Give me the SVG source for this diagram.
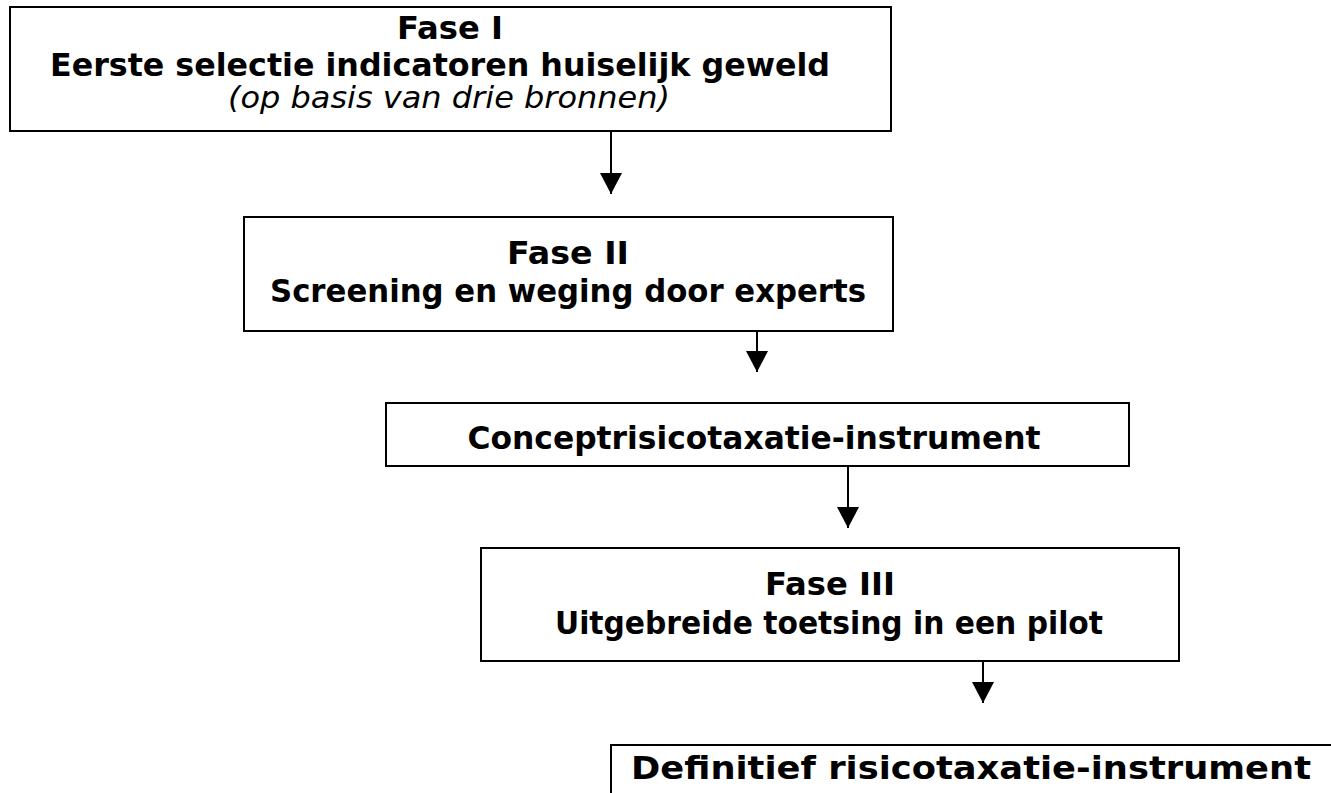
<svg xmlns="http://www.w3.org/2000/svg" width="1331" height="793" viewBox="0 0 1331 793">
<defs>
<style>
.box{fill:#fff;stroke:#000;stroke-width:2}
.t{font-family:"DejaVu Sans","Liberation Sans",sans-serif;font-weight:bold;font-size:32px;fill:#000;text-anchor:middle}
.i{font-family:"DejaVu Sans","Liberation Sans",sans-serif;font-style:italic;font-size:30px;fill:#000;text-anchor:middle}
.c{stroke:#000;stroke-width:2;fill:none}
</style>
<marker id="ah" markerWidth="21" markerHeight="22" refX="21" refY="11" orient="auto" markerUnits="userSpaceOnUse" viewBox="0 0 21 22">
<path d="M0,0 L21,11 L0,22 z" fill="#000"/>
</marker>
</defs>
<rect width="1331" height="793" fill="#fff"/>
<g id="fase1">
<rect class="box" x="10" y="7" width="881" height="124"/>
<text class="t" x="450" y="39" textLength="106" lengthAdjust="spacingAndGlyphs">Fase I</text>
<text class="t" x="440" y="76" textLength="780" lengthAdjust="spacingAndGlyphs">Eerste selectie indicatoren huiselijk geweld</text>
<text class="i" x="449" y="108" textLength="442" lengthAdjust="spacingAndGlyphs">(op basis van drie bronnen)</text>
</g>
<g id="fase2">
<rect class="box" x="244" y="217" width="649" height="114"/>
<text class="t" x="568" y="264" textLength="122" lengthAdjust="spacingAndGlyphs">Fase II</text>
<text class="t" x="568" y="302" textLength="596" lengthAdjust="spacingAndGlyphs">Screening en weging door experts</text>
</g>
<g id="concept">
<rect class="box" x="386" y="403" width="743" height="63"/>
<text class="t" x="754" y="449" textLength="573" lengthAdjust="spacingAndGlyphs">Conceptrisicotaxatie-instrument</text>
</g>
<g id="fase3">
<rect class="box" x="481" y="548" width="698" height="113"/>
<text class="t" x="830" y="595" textLength="130" lengthAdjust="spacingAndGlyphs">Fase III</text>
<text class="t" x="829" y="634" textLength="548" lengthAdjust="spacingAndGlyphs">Uitgebreide toetsing in een pilot</text>
</g>
<g id="definitief">
<rect class="box" x="611" y="745" width="740" height="80"/>
<text class="t" x="971" y="779" textLength="680" lengthAdjust="spacingAndGlyphs">Definitief risicotaxatie-instrument</text>
</g>
<g id="connectors">
<line class="c" x1="611" y1="131" x2="611" y2="194" marker-end="url(#ah)"/>
<line class="c" x1="757" y1="331" x2="757" y2="372" marker-end="url(#ah)"/>
<line class="c" x1="848" y1="466" x2="848" y2="528" marker-end="url(#ah)"/>
<line class="c" x1="983" y1="661" x2="983" y2="703" marker-end="url(#ah)"/>
</g>
</svg>
